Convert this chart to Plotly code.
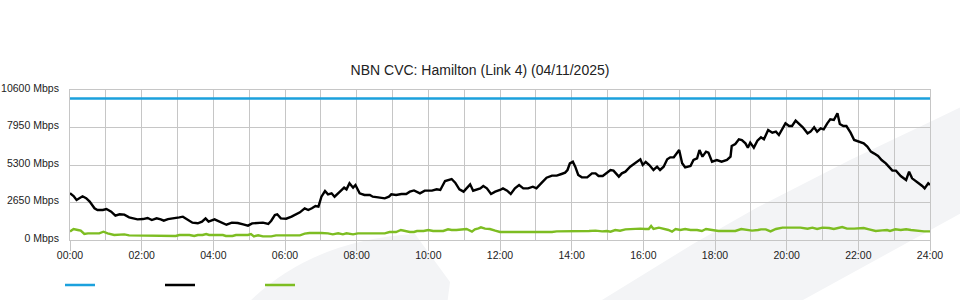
import plotly.graph_objects as go

# ---- data (minutes of day, Mbps) ----
capacity_min = [0, 1440]
capacity_val = [10000, 10000]

black_min = [0, 6, 11, 16, 21, 27, 33, 41, 46, 55, 61, 69, 76, 83, 91, 99, 105, 113, 122, 130,
             137, 145, 152, 157, 164, 175, 183, 189, 197, 205, 214, 221, 227, 232, 242, 250, 256, 262, 271, 281,
             290, 298, 305, 315, 323, 332, 337, 343, 347, 353, 362, 371, 377, 385, 393, 399, 405, 411, 416, 421,
             427, 432, 438, 443, 452, 459, 463, 468, 474, 478, 485, 493, 502, 507, 516, 527, 534, 538, 546, 555,
             563, 569, 576, 586, 594, 606, 614, 620, 628, 635, 639, 645, 652, 659, 664, 670, 675, 681, 687, 692,
             698, 705, 712, 720, 725, 732, 738, 745, 752, 759, 767, 775, 781, 790, 798, 807, 815, 823, 829, 833,
             837, 842, 846, 851, 857, 866, 874, 880, 885, 892, 897, 905, 910, 919, 924, 930, 938, 944, 949, 955,
             959, 964, 970, 977, 983, 988, 994, 1000, 1005, 1011, 1016, 1020, 1025, 1030, 1039, 1044, 1050, 1054, 1059, 1065,
             1069, 1075, 1083, 1091, 1100, 1106, 1108, 1114, 1120, 1125, 1131, 1135, 1139, 1145, 1151, 1157, 1162, 1169, 1176, 1182,
             1187, 1193, 1198, 1204, 1209, 1215, 1221, 1227, 1235, 1240, 1246, 1251, 1257, 1262, 1268, 1273, 1279, 1285, 1289, 1295,
             1300, 1307, 1313, 1321, 1329, 1335, 1341, 1346, 1353, 1359, 1366, 1371, 1377, 1383, 1391, 1400, 1405, 1410, 1416, 1421,
             1427, 1431, 1437, 1440]
black_val = [3300, 3110, 2830, 2970, 3090, 2950, 2710, 2240, 2120, 2120, 2190, 2000, 1720, 1815, 1790, 1600, 1530, 1460, 1480, 1555,
             1410, 1530, 1460, 1365, 1480, 1530, 1600, 1650, 1410, 1225, 1180, 1295, 1530, 1295, 1460, 1320, 1180, 1080, 1225, 1200,
             1100, 1013, 1178, 1225, 1225, 1130, 1365, 1767, 1815, 1530, 1507, 1650, 1767, 1955, 2240, 2120, 2240, 2400, 2356, 3060,
             3462, 3227, 3300, 3060, 3415, 3698, 3580, 4007, 3698, 3887, 3300, 3180, 3180, 3060, 3015, 2945, 3060, 3227, 3180, 3250,
             3250, 3415, 3500, 3300, 3486, 3486, 3580, 3533, 4170, 4240, 4310, 4050, 3580, 3415, 3650, 3933, 3486, 3580, 3650, 3815,
             3650, 3250, 3415, 3533, 3650, 3486, 3250, 3650, 3887, 3650, 3650, 3768, 3650, 4050, 4405, 4546, 4546, 4664, 4758, 4947,
             5418, 5536, 5182, 4593, 4428, 4428, 4711, 4711, 4522, 4522, 4664, 4947, 4900, 4475, 4711, 4829, 5182, 5371, 5465, 5701,
             5300, 5512, 5300, 4947, 5182, 4947, 5182, 5701, 5842, 5842, 6125, 6360, 5418, 5135, 5230, 5653, 5771, 6360, 5889, 6242,
             6171, 5536, 5653, 5536, 5653, 5889, 6643, 6784, 7114, 7067, 6831, 6525, 6878, 6525, 7020, 7256, 7114, 7773, 7585, 7656,
             7420, 7892, 8246, 8056, 8056, 8433, 8200, 7963, 7537, 7656, 7963, 7656, 7892, 7822, 8246, 8527, 8480, 8953, 8200, 8056,
             8056, 7585, 7067, 6949, 6831, 6596, 6242, 6125, 5936, 5653, 5418, 5182, 4900, 4900, 4522, 4240, 4829, 4357, 4192, 4007,
             3815, 3650, 4007, 3887]

green_min = [0, 6, 13, 18, 24, 30, 38, 49, 56, 63, 74, 83, 91, 99, 116, 133, 138, 161, 177, 183,
             200, 208, 214, 222, 228, 233, 256, 261, 272, 278, 288, 298, 303, 308, 315, 323, 337, 345, 365, 385,
             393, 401, 421, 432, 440, 449, 457, 463, 474, 482, 505, 527, 535, 546, 554, 560, 569, 576, 581, 592,
             600, 608, 617, 625, 633, 639, 647, 656, 664, 673, 678, 684, 688, 695, 703, 712, 720, 737, 753, 767,
             776, 792, 807, 815, 826, 834, 843, 854, 864, 869, 880, 891, 899, 905, 913, 921, 930, 938, 947, 955,
             963, 969, 973, 977, 986, 994, 1002, 1008, 1014, 1022, 1030, 1039, 1050, 1058, 1065, 1075, 1086, 1103, 1114, 1124,
             1134, 1142, 1152, 1157, 1165, 1173, 1182, 1193, 1207, 1223, 1235, 1243, 1251, 1260, 1271, 1279, 1293, 1301, 1313, 1321,
             1329, 1338, 1349, 1360, 1368, 1373, 1382, 1391, 1400, 1408, 1419, 1430, 1440]
green_val = [600, 777, 707, 660, 424, 471, 471, 471, 589, 471, 353, 400, 400, 330, 330, 330, 283, 283, 283, 353,
             353, 283, 353, 353, 424, 353, 353, 283, 283, 353, 353, 353, 424, 259, 330, 259, 259, 330, 330, 330,
             448, 495, 495, 471, 400, 471, 400, 471, 400, 471, 471, 471, 565, 565, 707, 636, 565, 565, 636, 636,
             707, 636, 636, 636, 754, 707, 707, 754, 777, 589, 754, 824, 895, 801, 777, 660, 565, 565, 565, 565,
             518, 518, 565, 612, 612, 636, 636, 589, 636, 636, 660, 612, 636, 589, 707, 660, 754, 777, 754, 801,
             777, 777, 990, 777, 872, 801, 707, 589, 777, 707, 777, 707, 707, 636, 777, 707, 636, 636, 636, 777,
             707, 660, 707, 754, 754, 612, 777, 872, 872, 872, 801, 872, 777, 872, 848, 777, 919, 801, 801, 801,
             848, 754, 636, 683, 707, 636, 754, 707, 754, 707, 636, 612, 612]

y_ticks = [0, 2650, 5300, 7950, 10600]
y_labels = ["0 Mbps", "2650 Mbps", "5300 Mbps", "7950 Mbps", "10600 Mbps"]
x_ticks = list(range(0, 25, 2))
x_labels = ["%02d:00" % h for h in x_ticks]

FONT = "Liberation Sans, Arial, sans-serif"
GRID = "#c6c6c6"

fig = go.Figure()
series = [
    (capacity_min, capacity_val, "#1ba1dd"),
    (black_min, black_val, "#000000"),
    (green_min, green_val, "#7dbd22"),
]
for mins, vals, col in series:
    fig.add_trace(go.Scatter(
        x=[m / 60 for m in mins], y=vals, mode="lines", name="",
        line=dict(color=col, width=2.4), hoverinfo="skip", showlegend=True))

wm = "#f3f4f6"
shapes = [
    dict(type="path", xref="paper", yref="paper", layer="below", line=dict(width=0), fillcolor=wm,
         path="M 0.2047,-0.4333 Q 0.2791,0 0.4012,0.04 L 0.4419,-0.28 L 0.4384,-0.4333 Z"),
    dict(type="path", xref="paper", yref="paper", layer="below", line=dict(width=0), fillcolor=wm,
         path=("M 0.6093,-0.4333 L 0.6186,-0.4 L 0.7244,-0.0267 L 0.8,0.22 L 0.907,0.5333 "
               "L 1.0047,0.8 L 1.0407,0.9 L 1.0407,0.1933 L 0.8523,-0.4 L 0.8419,-0.4333 Z")),
]

fig.update_layout(
    width=960, height=300,
    margin=dict(l=70, r=30, t=90, b=60, autoexpand=False),
    paper_bgcolor="white", plot_bgcolor="rgba(0,0,0,0)",
    font=dict(family=FONT, size=10.5, color="#222222"),
    title=dict(text="NBN CVC: Hamilton (Link 4) (04/11/2025)", x=0.5, xanchor="center",
               y=1 - 70 / 300, yanchor="middle", font=dict(family=FONT, size=14, color="#222222")),
    shapes=shapes,
    showlegend=True,
    legend=dict(orientation="h", xref="container", x=60 / 960, xanchor="left",
                yref="container", y=15 / 300, yanchor="middle",
                entrywidth=55, entrywidthmode="pixels", bgcolor="rgba(0,0,0,0)",
                font=dict(size=10.5)),
)
fig.update_xaxes(range=[0, 24], tickvals=x_ticks, ticktext=x_labels, automargin=False,
                 ticks="outside", ticklen=10, tickcolor=GRID, tickwidth=1, ticklabelstandoff=-5,
                 showgrid=True, gridcolor=GRID, gridwidth=1,
                 minor=dict(dtick=1, showgrid=True, gridcolor=GRID, ticks=""),
                 showline=True, linecolor=GRID, mirror=True, zeroline=False, fixedrange=True)
fig.update_yaxes(range=[0, 10600], tickvals=y_ticks, ticktext=y_labels, ticks="", automargin=False,
                 ticklabelstandoff=8, ticklabelshift=-2,
                 showgrid=True, gridcolor=GRID, gridwidth=1,
                 showline=True, linecolor=GRID, mirror=True, zeroline=False, fixedrange=True)

fig.write_html("out.html")
